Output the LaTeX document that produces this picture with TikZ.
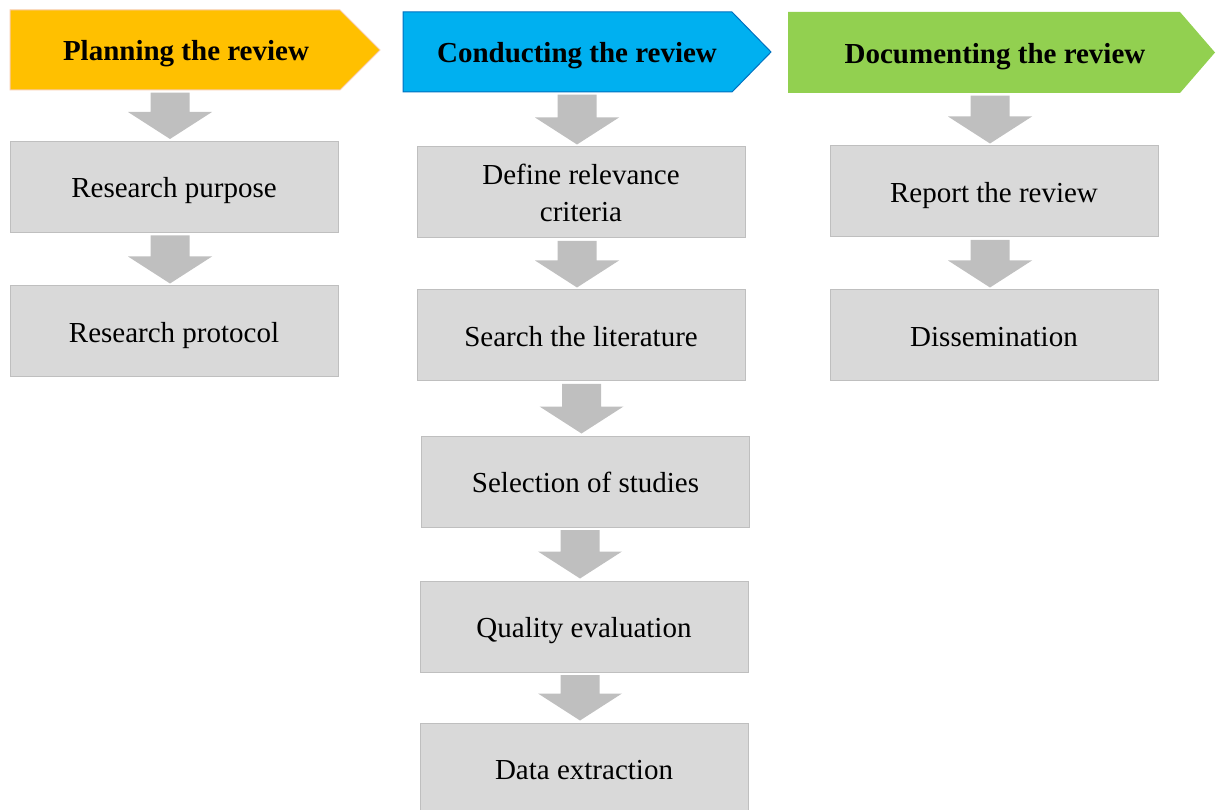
\documentclass[tikz,border=0pt]{standalone}
\usepackage{fontspec}
\setmainfont{Liberation Serif}
\usetikzlibrary{calc}
\definecolor{hyellow}{HTML}{FFC000}
\definecolor{hyelborder}{HTML}{F8CBAD}
\definecolor{hblue}{HTML}{00B0F0}
\definecolor{hblueborder}{HTML}{0070C0}
\definecolor{hgreen}{HTML}{92D050}
\definecolor{boxfill}{HTML}{D9D9D9}
\definecolor{boxborder}{HTML}{BFBFBF}
\definecolor{arrowgray}{HTML}{BFBFBF}
\newcommand\blockarrow[2]{%
  \fill[arrowgray] let \p1=(#1.south), \p2=(#2.north), \n1={\x2-4pt} in
    (\n1-19.5pt,\y1-2.5pt) -- (\n1+19.5pt,\y1-2.5pt) -- (\n1+19.5pt,\y2+29pt)
    -- (\n1+42pt,\y2+29pt) -- (\n1,\y2+2pt) -- (\n1-42pt,\y2+29pt)
    -- (\n1-19.5pt,\y2+29pt) -- cycle;}
\begin{document}
\begin{tikzpicture}[x=1pt,y=-1pt,
  box/.style={draw=boxborder, fill=boxfill, line width=1pt, minimum width=328pt,
    minimum height=91pt, inner sep=0pt, align=center,
    text height=22pt, text depth=0pt,
    font=\fontsize{29}{37}\selectfont},
  multibox/.style={box, text height={}, text depth={}},
  htext/.style={inner sep=0pt, minimum height=80pt, align=center,
    text height=22pt, text depth=0pt,
    font=\fontsize{29}{34}\selectfont\bfseries}]
\useasboundingbox (0,0) rectangle (1216,810);
% headers
\filldraw[fill=hyellow, draw=hyelborder, line width=1pt]
  (10,10) -- (340,10) -- (380,50) -- (340,90) -- (10,90) -- cycle;
\node[htext] (h1) at (186,50) {Planning the review};
\filldraw[fill=hblue, draw=hblueborder, line width=1pt]
  (403,12) -- (732,12) -- (771,52) -- (732,92) -- (403,92) -- cycle;
\node[htext] (h2) at (577,52) {Conducting the review};
\fill[hgreen]
  (788,12) -- (1180,12) -- (1215,52.5) -- (1180,93) -- (788,93) -- cycle;
\node[htext, minimum height=81pt] (h3) at (995,52.5) {Documenting the review};
% column 1
\node[box] (a1) at (174,187) {Research purpose};
\node[box] (a2) at (174,331.5) {Research protocol};
% column 2
\node[multibox] (b1) at (581,192.5) {Define relevance\\criteria};
\node[box] (b2) at (581,335.5) {Search the literature};
\node[box] (b3) at (585.5,481.5) {Selection of studies};
\node[box] (b4) at (584,626.5) {Quality evaluation};
\node[box] (b5) at (584,768.5) {Data extraction};
% column 3
\node[box] (c1) at (994,191.5) {Report the review};
\node[box] (c2) at (994,335.5) {Dissemination};
% block arrows
\blockarrow{h1}{a1}
\blockarrow{a1}{a2}
\blockarrow{h2}{b1}
\blockarrow{b1}{b2}
\blockarrow{b2}{b3}
\blockarrow{b3}{b4}
\blockarrow{b4}{b5}
\blockarrow{h3}{c1}
\blockarrow{c1}{c2}
\end{tikzpicture}
\end{document}
